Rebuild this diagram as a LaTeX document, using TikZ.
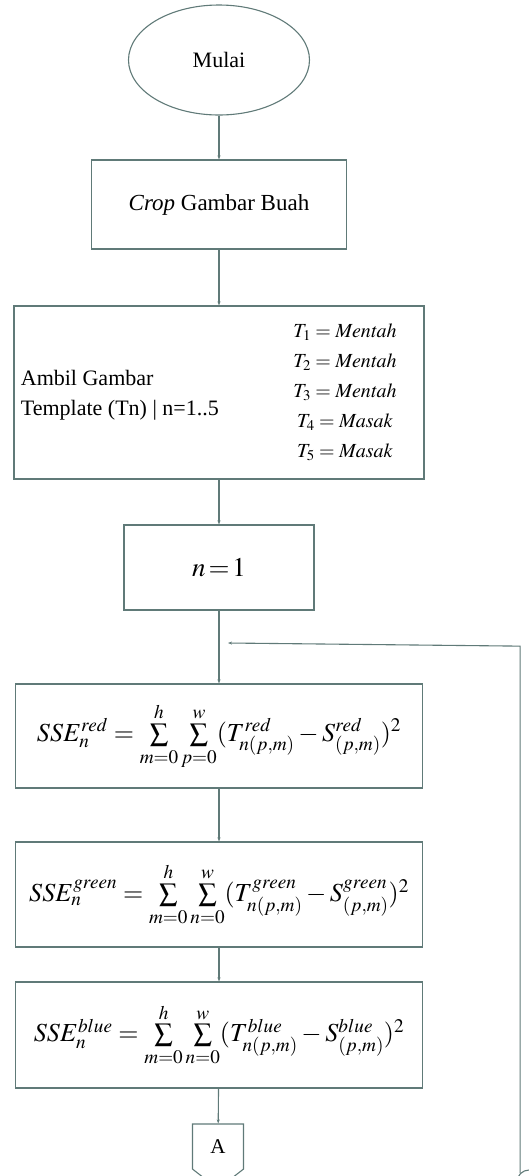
\documentclass[tikz,border=0pt]{standalone}
\usepackage{mathptmx}
\usepackage{amsmath}
\usepackage{xcolor}
\usepackage{fontspec}
\setmainfont{Liberation Serif}
\usepackage{tikz}
\usetikzlibrary{arrows.meta, positioning, shapes}

\definecolor{flowline}{RGB}{96,122,120}

\begin{document}
\begin{tikzpicture}[x=1pt, y=-1pt,
    line width=1.1pt,
    box/.style={draw=flowline, rectangle, inner sep=0pt},
    flow/.style={draw=flowline, -{Stealth[length=4pt, width=3pt]}},
    ssefont/.style={font=\fontsize{26}{31}\selectfont}]
      \useasboundingbox (0,0) rectangle (528,1176);

      % Start terminal
      \node[box, ellipse, minimum width=181pt, minimum height=110pt,
            font=\fontsize{22}{26}\selectfont] (mulai) at (219,60) {Mulai};

      % Process boxes
      \node[box, minimum width=255pt, minimum height=89pt,
            font=\fontsize{23}{27}\selectfont] (crop) at (219,204.5) {\textit{Crop} Gambar Buah};
      \node[box, minimum width=410pt, minimum height=173pt] (ambil) at (219,392.5) {};
      \node[box, minimum width=190pt, minimum height=85pt,
            font=\fontsize{27}{31}\selectfont] (init) at (219,567.5) {$n\,{=}\,1$};

      % Text inside the template box
      \node[anchor=west, align=left, font=\fontsize{22}{30}\selectfont] (ambiltxt) at (17,395)
        {Ambil Gambar\\Template (Tn) | n=1..5};
      \node[align=center, font=\fontsize{20}{30}\selectfont] (tlist) at (345,392)
        {$T_1=\mathit{Mentah}$\\ $T_2=\mathit{Mentah}$\\ $T_3=\mathit{Mentah}$\\
         $T_4=\mathit{Masak}$\\ $T_5=\mathit{Masak}$};

      % SSE boxes
      \node[box, minimum width=407pt, minimum height=104pt, ssefont] (ssered) at (219,736)
        {$SSE_n^{red}=\sum\limits_{m=0}^{h}\sum\limits_{p=0}^{w}(T_{n(p,m)}^{red}-S_{(p,m)}^{red})^2$};
      \node[box, minimum width=407pt, minimum height=105pt, ssefont] (ssegreen) at (219,894.5)
        {$SSE_n^{green}=\sum\limits_{m=0}^{h}\sum\limits_{n=0}^{w}(T_{n(p,m)}^{green}-S_{(p,m)}^{green})^2$};
      \node[box, minimum width=407pt, minimum height=106pt, ssefont] (sseblue) at (219,1035)
        {$SSE_n^{blue}=\sum\limits_{m=0}^{h}\sum\limits_{n=0}^{w}(T_{n(p,m)}^{blue}-S_{(p,m)}^{blue})^2$};

      % Off-page connectors
      \node[box, signal, signal to=south, signal pointer angle=104,
            minimum width=51pt, minimum height=51pt,
            font=\fontsize{21}{24}\selectfont] (conA) at (218,1146.5) {A};
      \node[box, circle, minimum size=24pt] (conB) at (529,1182) {};
      \coordinate (loopin) at (228,643);

      % Draw flow arrows
      \draw[flow] (mulai) -- (crop);
      \draw[flow] (crop) -- (ambil);
      \draw[flow] (ambil) -- (init);
      \draw[flow] (init) -- (ssered);
      \draw[flow] (ssered) -- (ssegreen);
      \draw[flow] (ssegreen) -- (sseblue);
      \draw[flow] (sseblue) -- (conA);

      % Loop back
      \draw[flow] (conB.north west) -- ++(0,-527) -- (loopin);
\end{tikzpicture}
\end{document}
